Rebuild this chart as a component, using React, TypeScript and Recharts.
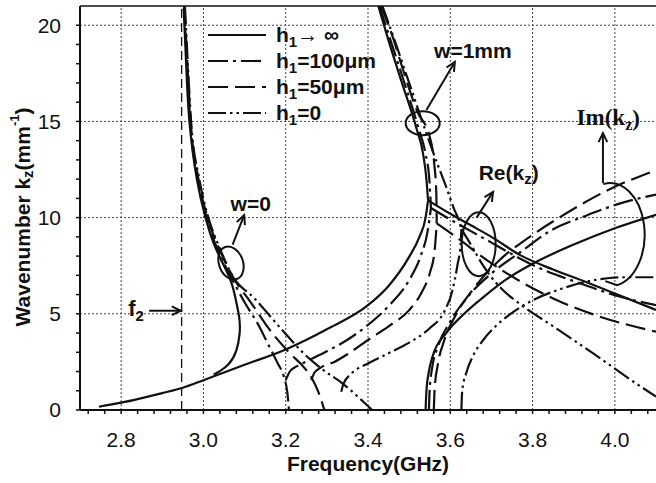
import { LineChart, Line, XAxis, YAxis, ReferenceLine, ReferenceDot, Legend } from 'recharts'

type Pt = [number, number]

// axis ticks
const xTicks = [2.72, 2.76, 2.8, 2.84, 2.88, 2.92, 2.96, 3.0, 3.04, 3.08, 3.12, 3.16, 3.2, 3.24, 3.28, 3.32, 3.36, 3.4, 3.44, 3.48, 3.52, 3.56, 3.6, 3.64, 3.68, 3.72, 3.76, 3.8, 3.84, 3.88, 3.92, 3.96, 4.0, 4.04, 4.08]
const xLabels = [2.8, 3.0, 3.2, 3.4, 3.6, 3.8, 4.0]
const yTicks = [0, 1, 2, 3, 4, 5, 6, 7, 8, 9, 10, 11, 12, 13, 14, 15, 16, 17, 18, 19, 20]
const yLabels = [0, 5, 10, 15, 20]
const f2 = 2.947

// h1 -> infinity (solid)
const solidW0: Pt[] = [[2.952, 20.9], [2.958, 18], [2.966, 15], [2.984, 12], [3.005, 10], [3.03, 8.4], [3.063, 6.9], [3.078, 5.8], [3.087, 4.8], [3.088, 4.0], [3.08, 3.1], [3.062, 2.4], [3.04, 2.02], [3.025, 1.85]]
const solidL: Pt[] = [[2.746, 0.17], [2.8, 0.38], [2.85, 0.62], [2.9, 0.88], [2.95, 1.16], [3.0, 1.55], [3.05, 1.95], [3.1, 2.35], [3.2, 3.15], [3.3, 4.2], [3.4, 5.45], [3.45, 6.45], [3.5, 7.96], [3.525, 9.0], [3.54, 10.0], [3.546, 10.9]]
const solidU: Pt[] = [[3.425, 21], [3.45, 19.2], [3.481, 17.1], [3.517, 14.7], [3.534, 13.3], [3.542, 12.0], [3.546, 10.9]]
const solidRe: Pt[] = [[3.546, 10.9], [3.6, 10.2], [3.65, 9.6], [3.7, 9.0], [3.77, 8.05], [3.85, 7.3], [3.93, 6.65], [4.0, 6.06], [4.1, 5.2]]
const solidIm: Pt[] = [[3.54, 0], [3.542, 1], [3.548, 2], [3.558, 2.85], [3.59, 4.0], [3.631, 4.95], [3.688, 6.0], [3.737, 6.8], [3.8, 7.6], [3.9, 8.6], [4.0, 9.45], [4.1, 10.15]]

// h1 = 100um (dash-dot)
const dashDotW0: Pt[] = [[2.953, 21], [2.96, 18], [2.968, 15], [2.986, 12], [3.008, 10], [3.035, 8.3], [3.065, 7.0], [3.1, 5.6], [3.136, 4.33], [3.16, 3.3], [3.18, 2.45], [3.196, 1.7], [3.204, 0.9], [3.208, 0]]
const dashDotL: Pt[] = [[3.2, 1.55], [3.21, 2.0], [3.225, 2.25], [3.253, 2.55], [3.3, 3.05], [3.35, 3.65], [3.4, 4.42], [3.45, 5.4], [3.5, 6.75], [3.528, 8.0], [3.545, 9.3], [3.553, 10.5]]
const dashDotU: Pt[] = [[3.428, 21], [3.455, 19.2], [3.487, 17.1], [3.522, 14.7], [3.54, 13.3], [3.549, 12], [3.553, 10.5]]
const dashDotRe: Pt[] = [[3.553, 10.5], [3.6, 9.9], [3.65, 9.3], [3.7, 8.7], [3.75, 8.1], [3.81, 7.44], [3.9, 6.7], [4.013, 5.89], [4.1, 5.45]]
const dashDotIm: Pt[] = [[3.548, 0], [3.55, 1.1], [3.556, 2.2], [3.57, 3.3], [3.6, 4.6], [3.647, 6.0], [3.7, 7.1], [3.77, 8.2], [3.842, 9.3], [3.93, 10.1], [4.013, 10.74], [4.1, 11.2]]

// h1 = 50um (long dash)
const longDashW0: Pt[] = [[2.954, 21], [2.961, 18], [2.969, 15], [2.988, 12], [3.01, 10], [3.04, 8.3], [3.075, 6.8], [3.115, 5.6], [3.16, 4.2], [3.21, 2.95], [3.245, 2.2], [3.265, 1.6], [3.28, 0.9], [3.294, 0]]
const longDashL: Pt[] = [[3.262, 1.55], [3.27, 1.95], [3.285, 2.2], [3.318, 2.5], [3.35, 2.9], [3.4, 3.64], [3.45, 4.35], [3.5, 5.19], [3.53, 6.1], [3.55, 7.1], [3.562, 8.3], [3.567, 9.7]]
const longDashU: Pt[] = [[3.432, 21], [3.46, 19.4], [3.485, 17.7], [3.52, 15.5], [3.55, 14.2], [3.561, 12.8], [3.566, 11.3], [3.567, 9.7]]
const longDashRe: Pt[] = [[3.567, 9.7], [3.62, 8.9], [3.688, 7.8], [3.769, 6.7], [3.85, 5.8], [3.95, 4.95], [4.1, 4.07]]
const longDashIm: Pt[] = [[3.56, 0], [3.562, 1.1], [3.57, 2.4], [3.585, 3.6], [3.615, 5.0], [3.66, 6.4], [3.72, 7.8], [3.793, 9.0], [3.88, 10.2], [3.98, 11.4], [4.1, 12.47]]

// h1 = 0 (dash-dot-dot)
const ddotW0: Pt[] = [[2.955, 21], [2.962, 18], [2.97, 15], [2.99, 12], [3.012, 10], [3.04, 8.4], [3.07, 7.0], [3.124, 5.8], [3.2, 3.95], [3.241, 3.0], [3.29, 2.1], [3.34, 1.35], [3.375, 0.7], [3.41, 0]]
const ddotL: Pt[] = [[3.335, 0.95], [3.34, 1.35], [3.36, 1.9], [3.4, 2.42], [3.45, 2.95], [3.5, 3.5], [3.55, 4.25], [3.585, 5.1], [3.605, 6.2], [3.618, 7.6], [3.625, 8.6], [3.627, 9.4]]
const ddotU: Pt[] = [[3.435, 21], [3.465, 19.2], [3.5, 17.0], [3.54, 14.5], [3.565, 13.0], [3.59, 11.6], [3.61, 10.4], [3.622, 9.8], [3.627, 9.4]]
const ddotRe: Pt[] = [[3.627, 9.4], [3.65, 8.6], [3.68, 7.5], [3.72, 6.4], [3.77, 5.5], [3.85, 4.35], [3.95, 2.9], [4.069, 1.13], [4.1, 0.7]]
const ddotIm: Pt[] = [[3.627, 0], [3.629, 1], [3.64, 2.0], [3.655, 2.8], [3.68, 3.64], [3.71, 4.35], [3.75, 5.05], [3.8, 5.7], [3.87, 6.3], [3.964, 6.8], [4.03, 6.9], [4.1, 6.9]]

const SOLID = undefined
const DASH_DOT = '20 5 3 5'
const LONG_DASH = '20 7'
const DASH_DOT_DOT = '18 4 2.5 4 2.5 4'

const series = [
  { id: 'solidW0', pts: solidW0, dash: SOLID, curve: 'natural' },
  { id: 'solidL', pts: solidL, dash: SOLID },
  { id: 'solidU', pts: solidU, dash: SOLID },
  { id: 'solidRe', pts: solidRe, dash: SOLID },
  { id: 'solidIm', pts: solidIm, dash: SOLID },
  { id: 'dashDotW0', pts: dashDotW0, dash: DASH_DOT },
  { id: 'dashDotL', pts: dashDotL, dash: DASH_DOT },
  { id: 'dashDotU', pts: dashDotU, dash: DASH_DOT },
  { id: 'dashDotRe', pts: dashDotRe, dash: DASH_DOT },
  { id: 'dashDotIm', pts: dashDotIm, dash: DASH_DOT },
  { id: 'longDashW0', pts: longDashW0, dash: LONG_DASH },
  { id: 'longDashL', pts: longDashL, dash: LONG_DASH },
  { id: 'longDashU', pts: longDashU, dash: LONG_DASH },
  { id: 'longDashRe', pts: longDashRe, dash: LONG_DASH },
  { id: 'longDashIm', pts: longDashIm, dash: LONG_DASH },
  { id: 'ddotW0', pts: ddotW0, dash: DASH_DOT_DOT },
  { id: 'ddotL', pts: ddotL, dash: DASH_DOT_DOT },
  { id: 'ddotU', pts: ddotU, dash: DASH_DOT_DOT },
  { id: 'ddotRe', pts: ddotRe, dash: DASH_DOT_DOT },
  { id: 'ddotIm', pts: ddotIm, dash: DASH_DOT_DOT },
]

const legendItems = [
  { text: '\u2192 \u221e', dash: SOLID },
  { text: '=100\u03bcm', dash: DASH_DOT },
  { text: '=50\u03bcm', dash: LONG_DASH },
  { text: '=0', dash: DASH_DOT_DOT },
]

const INK = '#111'
const FONT = '"Liberation Sans", Arial, sans-serif'

const toRows = (pts: Pt[]) => pts.map(([f, k]) => ({ f, k }))
const near = (v: number, list: number[]) => list.some((t) => Math.abs(t - v) < 1e-6)

const arrowShape = (props: any) => {
  const { x1, y1, x2, y2 } = props
  const a = Math.atan2(y2 - y1, x2 - x1)
  const len = 10
  const spread = 0.45
  const ax = x2 - len * Math.cos(a - spread)
  const ay = y2 - len * Math.sin(a - spread)
  const bx = x2 - len * Math.cos(a + spread)
  const by = y2 - len * Math.sin(a + spread)
  return (
    <g stroke={INK} strokeWidth={2} fill="none">
      <line x1={x1} y1={y1} x2={x2} y2={y2} />
      <polyline points={`${ax},${ay} ${x2},${y2} ${bx},${by}`} />
    </g>
  )
}

const ellipseShape = (rx: number, ry: number, rot: number) => (p: any) => (
  <ellipse cx={p.cx} cy={p.cy} rx={rx} ry={ry} transform={`rotate(${rot} ${p.cx} ${p.cy})`} fill="none" stroke={INK} strokeWidth={2} />
)

const imArcShape = (p: any) => (
  <path d={`M ${p.cx - 12} ${p.cy - 50} A 34 51 0 1 1 ${p.cx + 2} ${p.cy + 51} l -12 -4`} fill="none" stroke={INK} strokeWidth={2} />
)

const subText = (main: string, sub: string, tail: string, serif = false) => (p: any) => (
  <text x={p.cx} y={p.cy} textAnchor="middle" dominantBaseline="central" fontWeight="bold" fontSize={serif ? 23 : 21}
    fontFamily={serif ? '"Liberation Serif", "Times New Roman", serif' : FONT} fill={INK}>
    {main}
    <tspan fontSize={serif ? 16 : 15} dy={6}>{sub}</tspan>
    <tspan dy={-6}>{tail}</tspan>
  </text>
)

const plainText = (s: string) => (p: any) => (
  <text x={p.cx} y={p.cy} textAnchor="middle" dominantBaseline="central" fontWeight="bold" fontSize={21} fontFamily={FONT} fill={INK}>{s}</text>
)

const f2Text = (p: any) => (
  <text x={p.cx} y={p.cy} textAnchor="start" dominantBaseline="central" fontWeight="bold" fontSize={22} fontFamily={FONT} fill={INK}>
    f<tspan fontSize={15} dy={7}>2</tspan>
  </text>
)

const LegendBox = () => (
  <svg width={210} height={110} style={{ overflow: 'visible' }}>
    {legendItems.map((it, i) => {
      const y = 13 + i * 26
      return (
        <g key={i}>
          <line x1={3} y1={y} x2={61} y2={y} stroke={INK} strokeWidth={2.2} strokeDasharray={it.dash} />
          <text x={71} y={y + 7} fontSize={21} fontWeight="bold" fontFamily={FONT} fill={INK}>
            h<tspan fontSize={15} dy={5}>1</tspan><tspan dy={-5}>{it.text}</tspan>
          </text>
        </g>
      )
    })}
  </svg>
)

const YTitle = (p: any) => {
  const vb = p.viewBox
  const cx = vb.x + 22
  const cy = 217
  return (
    <text x={cx} y={cy} transform={`rotate(-90 ${cx} ${cy})`} textAnchor="middle" dominantBaseline="central"
      fontSize={21} fontWeight="bold" fontFamily={FONT} fill={INK}>
      Wavenumber k<tspan fontSize={15} dy={5}>z</tspan><tspan dy={-5}>(mm</tspan><tspan fontSize={13} dy={-8}>-1</tspan><tspan dy={8}>)</tspan>
    </text>
  )
}

const XTitle = (p: any) => {
  const vb = p.viewBox
  return (
    <text x={vb.x + vb.width / 2} y={vb.y + 61} textAnchor="middle" fontSize={21} fontWeight="bold" fontFamily={FONT} fill={INK}>
      Frequency(GHz)
    </text>
  )
}

export default function App() {
  return (
    <div style={{ position: 'absolute', left: 0, top: 0, width: 656, height: 483, background: '#fff' }}>
      <LineChart width={656} height={483} margin={{ top: 6, right: 0, left: 0, bottom: 0 }} style={{ fontFamily: FONT }}>
        <XAxis
          dataKey="f"
          type="number"
          domain={[2.7, 4.1]}
          allowDataOverflow
          ticks={xTicks}
          interval={0}
          height={73}
          tickSize={4}
          tickMargin={18}
          stroke={INK}
          axisLine={{ stroke: INK, strokeWidth: 2 }}
          tickLine={{ stroke: INK, strokeWidth: 1.5 }}
          tick={{ fontSize: 21, fill: INK }}
          tickFormatter={(v: number) => (near(v, xLabels) ? v.toFixed(1) : '')}
          label={{ content: XTitle }}
        />
        <YAxis
          type="number"
          domain={[0, 21]}
          allowDataOverflow
          ticks={yTicks}
          interval={0}
          width={80}
          tickSize={4}
          tickMargin={15}
          stroke={INK}
          axisLine={{ stroke: INK, strokeWidth: 2 }}
          tickLine={{ stroke: INK, strokeWidth: 1.5 }}
          tick={{ fontSize: 21, fill: INK }}
          tickFormatter={(v: number) => (near(v, yLabels) ? String(v) : '')}
          label={{ content: YTitle }}
        />
        {xLabels.map((x) => (
          <ReferenceLine key={`gx${x}`} x={x} stroke="#444" strokeWidth={1} strokeDasharray="2 2" />
        ))}
        {yLabels.filter((y) => y > 0).map((y) => (
          <ReferenceLine key={`gy${y}`} y={y} stroke="#444" strokeWidth={1} strokeDasharray="2 2" />
        ))}
        <ReferenceLine y={21} stroke={INK} strokeWidth={1.5} />
        <ReferenceLine x={f2} stroke={INK} strokeWidth={1.3} strokeDasharray="9 5" />

        {series.map((s) => (
          <Line
            key={s.id}
            data={toRows(s.pts)}
            dataKey="k"
            type={(s.curve ?? 'monotone') as any}
            stroke={INK}
            strokeWidth={2.2}
            strokeDasharray={s.dash}
            dot={false}
            activeDot={false}
            isAnimationActive={false}
            legendType="none"
          />
        ))}

        {/* annotations */}
        <ReferenceLine segment={[{ x: 2.868, y: 5.16 }, { x: 2.945, y: 5.16 }]} shape={arrowShape} />
        <ReferenceDot x={2.817} y={5.3} r={1} shape={f2Text} />

        <ReferenceLine segment={[{ x: 3.071, y: 8.6 }, { x: 3.099, y: 10.13 }]} shape={arrowShape} />
        <ReferenceDot x={3.067} y={7.64} r={1} shape={ellipseShape(12, 17, -20)} />
        <ReferenceDot x={3.115} y={10.73} r={1} shape={plainText('w=0')} />

        <ReferenceLine segment={[{ x: 3.542, y: 15.6 }, { x: 3.611, y: 18.09 }]} shape={arrowShape} />
        <ReferenceDot x={3.533} y={14.91} r={1} shape={ellipseShape(17, 12, 0)} />
        <ReferenceDot x={3.655} y={18.68} r={1} shape={plainText('w=1mm')} />

        <ReferenceLine segment={[{ x: 3.664, y: 10.0 }, { x: 3.704, y: 11.34 }]} shape={arrowShape} />
        <ReferenceDot x={3.669} y={8.62} r={1} shape={ellipseShape(17, 32, 0)} />
        <ReferenceDot x={3.742} y={12.35} r={1} shape={subText('Re(k', 'z', ')')} />

        <ReferenceLine segment={[{ x: 3.971, y: 11.79 }, { x: 3.971, y: 14.39 }]} shape={arrowShape} />
        <ReferenceDot x={4.001} y={9.14} r={1} shape={imArcShape} />
        <ReferenceDot x={3.984} y={15.2} r={1} shape={subText('Im(k', 'z', ')', true)} />

        <Legend
          layout="vertical"
          align="center"
          verticalAlign="middle"
          wrapperStyle={{ left: 205, top: 22, width: 210, height: 110 }}
          content={() => <LegendBox />}
        />
      </LineChart>
    </div>
  )
}
